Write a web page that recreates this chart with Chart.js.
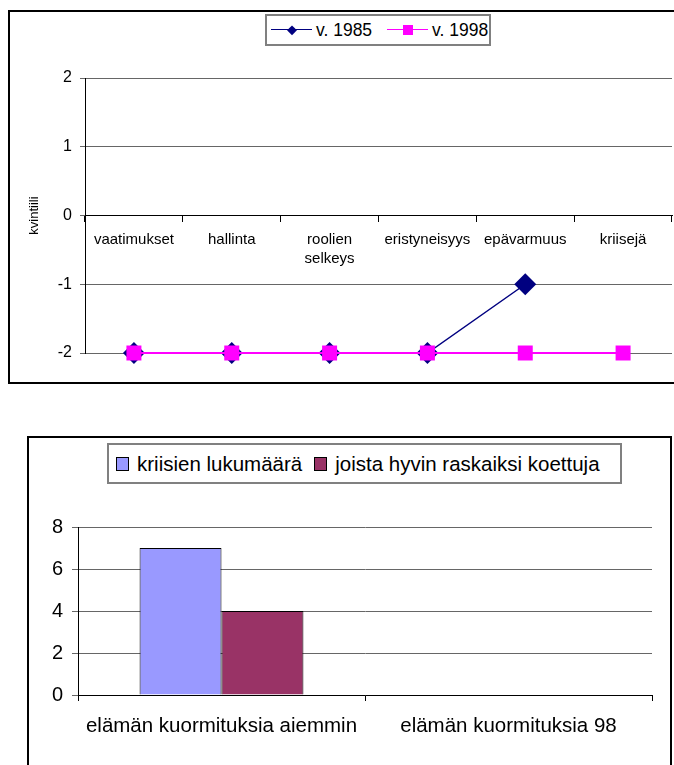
<!DOCTYPE html>
<html>
<head>
<meta charset="utf-8">
<script src="https://cdn.jsdelivr.net/npm/chart.js@4.4.1/dist/chart.umd.min.js"></script>
<style>
  body { margin: 0; background: #fff; width: 674px; height: 765px; overflow: hidden; position: relative;
         font-family: Arial, "Liberation Sans", sans-serif; color: #000; }
  .frame { position: absolute; border: 2px solid #000; box-sizing: border-box; }
  #frame1 { left: 8px; top: 10px; width: 690px; height: 374px; }
  #frame2 { left: 27px; top: 436px; width: 645px; height: 360px; }
  canvas { position: absolute; left: 0; }
  #c1 { top: 0; }
  #c2 { top: 400px; }
  .legend { position: absolute; box-sizing: border-box; border: 2px solid #808080; background: #fff;
            display: flex; align-items: center; white-space: nowrap; }
  #leg1 { left: 265px; top: 14px; width: 226px; height: 32px; font-size: 17.5px; padding-left: 4px; }
  #leg2 { left: 107px; top: 443px; width: 515px; height: 41px; font-size: 20.5px; padding-left: 7px; }
  .sample { position: relative; display: inline-block; width: 41px; height: 16px; margin-right: 4px; }
  .ln { position: absolute; left: 0; right: 0; top: 7px; height: 0; border-top: 1.5px solid; }
  .mk { position: absolute; left: 50%; top: 50%; }
  .swatch { display: inline-block; width: 13px; height: 14px; border: 1px solid #000; box-sizing: border-box; margin-right: 8px; }
</style>
</head>
<body>
<div class="frame" id="frame1"></div>
<div class="frame" id="frame2"></div>
<!-- the line chart keeps a point-radius margin on the right, so its canvas runs past the page edge -->
<canvas id="c1" width="683" height="390"></canvas>
<canvas id="c2" width="674" height="365"></canvas>
<div class="legend" id="leg1"></div>
<div class="legend" id="leg2"></div>

<script>
// upper chart: quintile per area, two survey years
const areas = ['vaatimukset', 'hallinta', ['roolien', 'selkeys'], 'eristyneisyys', 'epävarmuus', 'kriisejä'];
const years = ['v. 1985', 'v. 1998'];
const q1985 = [-2, -2, -2, -2, -1, null];
const q1998 = [-2, -2, -2, -2, -2, -2];

// lower chart: number of crises
const stressGroups = ['elämän kuormituksia aiemmin', 'elämän kuormituksia 98'];
const crisisNames = ['kriisien lukumäärä', 'joista hyvin raskaiksi koettuja'];
const crisisCount = [7, null];
const severeCount = [4, null];

const NAVY = '#000080';
const MAGENTA = '#FF00FF';
const BLUE = '#9999FF';
const PLUM = '#993366';
const FONT = 'Arial, "Liberation Sans", sans-serif';

Chart.defaults.font.family = FONT;
Chart.defaults.color = '#000';

new Chart(document.getElementById('c1'), {
  type: 'line',
  data: {
    labels: areas,
    datasets: [
      { label: years[0], data: q1985, borderColor: NAVY, backgroundColor: NAVY, borderWidth: 1.5,
        pointStyle: 'rectRot', pointRadius: 11, pointBorderWidth: 0, order: 1, clip: false },
      { label: years[1], data: q1998, borderColor: MAGENTA, backgroundColor: MAGENTA, borderWidth: 2,
        pointStyle: 'rect', pointRadius: 10.6, pointBorderWidth: 0, order: 0, clip: false }
    ]
  },
  options: {
    responsive: false,
    animation: false,
    devicePixelRatio: 1,
    layout: { padding: { top: 78, bottom: 37, left: 0, right: 0 } },
    plugins: { legend: { display: false }, tooltip: { enabled: false } },
    scales: {
      x: {
        position: { y: 0 },
        offset: true,
        grid: { offset: true, drawOnChartArea: false, tickLength: 6, color: '#000' },
        border: { color: '#000' },
        ticks: { font: { size: 15, lineHeight: 1.25 }, padding: 9, maxRotation: 0, autoSkip: false }
      },
      y: {
        min: -2, max: 2,
        afterFit: s => { s.width = 85; },
        ticks: { stepSize: 1, font: { size: 16 }, padding: 8 },
        grid: { color: '#666', tickLength: 5 },
        border: { color: '#000' },
        title: { display: true, text: 'kvintiili', font: { size: 13 }, padding: { top: 27, bottom: 0 } }
      }
    }
  }
});

new Chart(document.getElementById('c2'), {
  type: 'bar',
  data: {
    labels: stressGroups,
    datasets: [
      { label: crisisNames[0], data: crisisCount, backgroundColor: BLUE, borderColor: '#000', borderWidth: 1 },
      { label: crisisNames[1], data: severeCount, backgroundColor: PLUM, borderColor: '#000', borderWidth: 1 }
    ]
  },
  options: {
    responsive: false,
    animation: false,
    devicePixelRatio: 1,
    datasets: { bar: { categoryPercentage: 0.571, barPercentage: 1 } },
    layout: { padding: { top: 127, left: 0, right: 22, bottom: 0 } },
    plugins: { legend: { display: false }, tooltip: { enabled: false } },
    scales: {
      x: {
        afterFit: s => { s.height = 70; },
        grid: { offset: true, drawOnChartArea: false, tickLength: 6, color: '#000' },
        border: { color: '#000' },
        ticks: { font: { size: 20.5 }, padding: 13, maxRotation: 0 }
      },
      y: {
        min: 0, max: 8,
        afterFit: s => { s.width = 78; },
        ticks: { stepSize: 2, font: { size: 20 }, padding: 9 },
        grid: { color: '#666', tickLength: 6 },
        border: { color: '#000' }
      }
    }
  }
});

// legends as plain markup
const leg1 = document.getElementById('leg1');
const lineMarks = [
  { color: NAVY, size: 6.5, rot: 45 },
  { color: MAGENTA, size: 10, rot: 0 }
];
years.forEach((name, i) => {
  const m = lineMarks[i];
  const sample = document.createElement('span');
  sample.className = 'sample';
  if (i > 0) sample.style.marginLeft = '15px';
  const ln = document.createElement('span');
  ln.className = 'ln';
  ln.style.borderColor = m.color;
  const mk = document.createElement('span');
  mk.className = 'mk';
  mk.style.width = m.size + 'px';
  mk.style.height = m.size + 'px';
  mk.style.background = m.color;
  mk.style.transform = 'translate(-50%, -50%) rotate(' + m.rot + 'deg)';
  sample.appendChild(ln);
  sample.appendChild(mk);
  const txt = document.createElement('span');
  txt.textContent = name;
  leg1.appendChild(sample);
  leg1.appendChild(txt);
});

const leg2 = document.getElementById('leg2');
[BLUE, PLUM].forEach((c, i) => {
  const sw = document.createElement('span');
  sw.className = 'swatch';
  sw.style.background = c;
  if (i > 0) sw.style.marginLeft = '12px';
  const txt = document.createElement('span');
  txt.textContent = crisisNames[i];
  leg2.appendChild(sw);
  leg2.appendChild(txt);
});
</script>
</body>
</html>
